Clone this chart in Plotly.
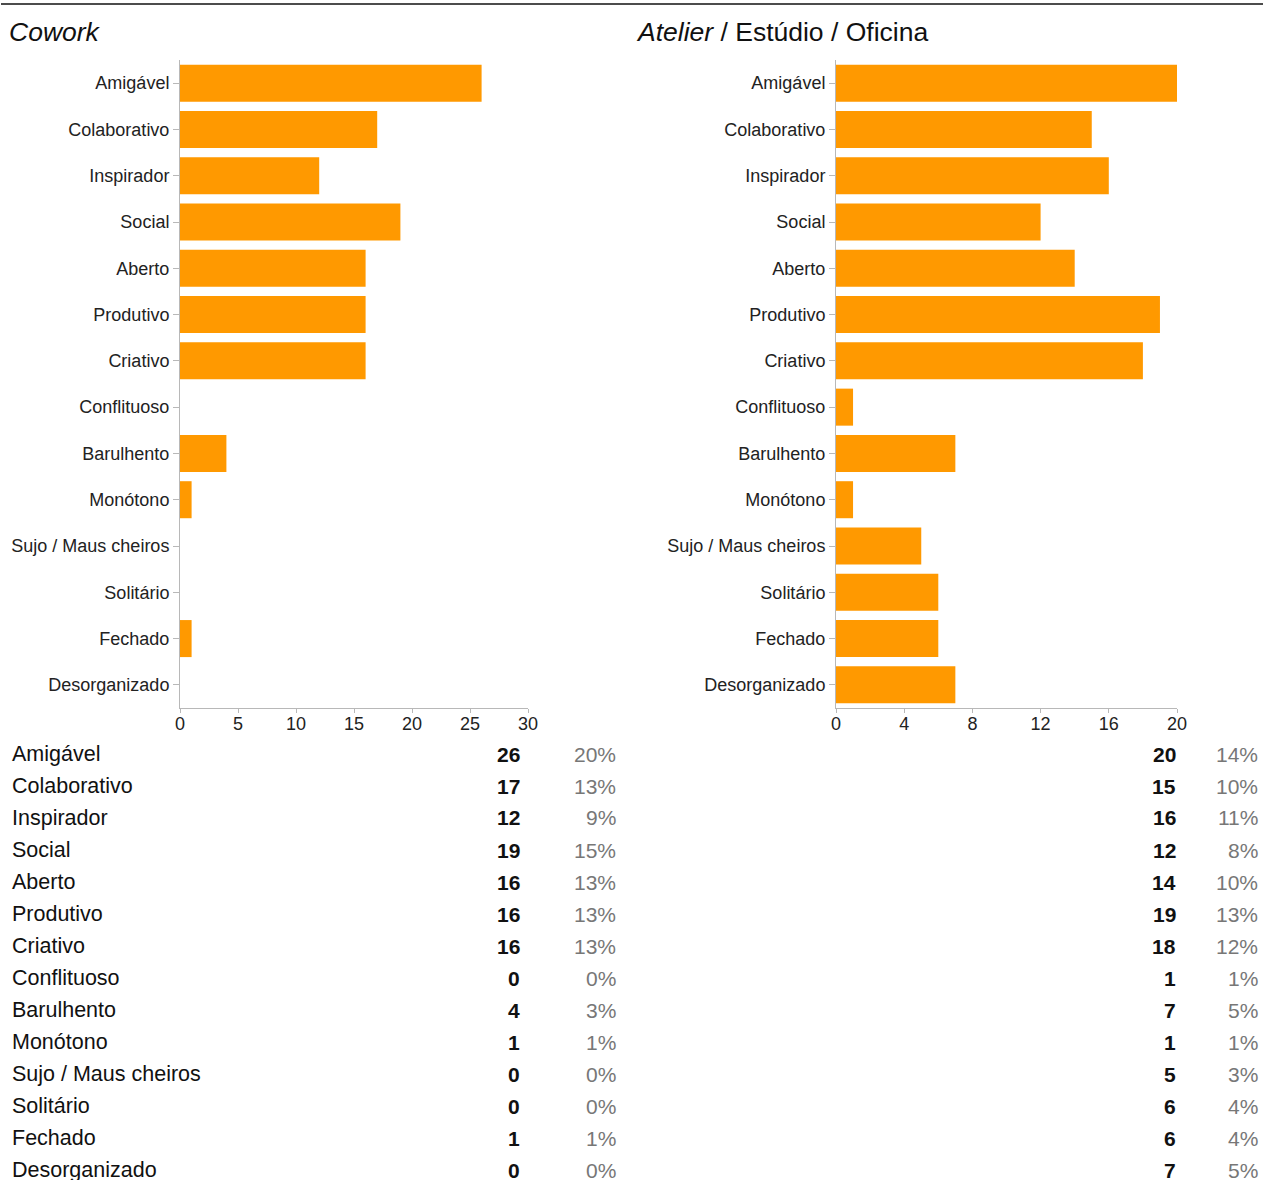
import plotly.graph_objects as go

W, H = 1263, 1180

categories = ["Amigável", "Colaborativo", "Inspirador", "Social", "Aberto", "Produtivo",
              "Criativo", "Conflituoso", "Barulhento", "Monótono", "Sujo / Maus cheiros",
              "Solitário", "Fechado", "Desorganizado"]
cowork_counts = [26, 17, 12, 19, 16, 16, 16, 0, 4, 1, 0, 0, 1, 0]
atelier_counts = [20, 15, 16, 12, 14, 19, 18, 1, 7, 1, 5, 6, 6, 7]
cowork_pct = ["20%", "13%", "9%", "15%", "13%", "13%", "13%", "0%", "3%", "1%", "0%", "0%", "1%", "0%"]
atelier_pct = ["14%", "10%", "11%", "8%", "10%", "13%", "12%", "1%", "5%", "1%", "3%", "4%", "4%", "5%"]
cowork_ticks = [0, 5, 10, 15, 20, 25, 30]
atelier_ticks = [0, 4, 8, 12, 16, 20]
titles = ["<i>Cowork</i>", "<i>Atelier</i> / Estúdio / Oficina"]

# observed rendering: screen_x ~= 4 + 1248 * paper_x
X0, XW = 4.0, 1248.0


def px(x):
    return (x - X0) / XW


def py(y):
    return 1 - y / H


FONT = "Liberation Sans, Arial, sans-serif"
ORANGE = "#FF9900"
AXIS = "#B8B8B8"

fig = go.Figure()
fig.add_trace(go.Bar(x=cowork_counts, y=categories, orientation="h",
                     marker=dict(color=ORANGE, line=dict(width=0)),
                     xaxis="x", yaxis="y", showlegend=False))
fig.add_trace(go.Bar(x=atelier_counts, y=categories, orientation="h",
                     marker=dict(color=ORANGE, line=dict(width=0)),
                     xaxis="x2", yaxis="y2", showlegend=False))

ydom = [py(708), py(60)]
common_y = dict(autorange="reversed", showline=True, linecolor=AXIS, linewidth=1,
                ticks="outside", ticklen=6, tickcolor=AXIS, showgrid=False,
                tickfont=dict(family=FONT, size=18, color="#222"),
                fixedrange=True)
common_x = dict(showline=True, linecolor=AXIS, linewidth=1, ticks="outside", ticklen=4,
                tickcolor=AXIS, showgrid=False, zeroline=False, ticklabelstandoff=-5,
                tickfont=dict(family=FONT, size=18, color="#222"))

fig.update_layout(
    width=W, height=H,
    margin=dict(l=0, r=0, t=0, b=0),
    paper_bgcolor="white", plot_bgcolor="white",
    bargap=0.2,
    xaxis=dict(domain=[px(179), px(527)], range=[0, 30], tickvals=cowork_ticks, anchor="y", **common_x),
    yaxis=dict(domain=ydom, anchor="x", **common_y),
    xaxis2=dict(domain=[px(835), px(1176)], range=[0, 20], tickvals=atelier_ticks, anchor="y2", **common_x),
    yaxis2=dict(domain=ydom, anchor="x2", **common_y),
)

# top rule
fig.add_shape(type="line", xref="paper", yref="paper", x0=px(0), x1=px(1263), y0=py(4), y1=py(4),
              line=dict(color="#111", width=1.5))

# titles
fig.add_annotation(text=titles[0], xref="paper", yref="paper", x=px(6), y=py(32),
                   xanchor="left", yanchor="middle", showarrow=False,
                   font=dict(family=FONT, size=26.5, color="#111"))
fig.add_annotation(text=titles[1], xref="paper", yref="paper", x=px(633), y=py(32),
                   xanchor="left", yanchor="middle", showarrow=False,
                   font=dict(family=FONT, size=26.5, color="#111"))

# tables
for i, cat in enumerate(categories):
    yy = py(754 + 32 * i)
    fig.add_annotation(text=cat, xref="paper", yref="paper", x=px(9), y=yy,
                       xanchor="left", yanchor="middle", showarrow=False,
                       font=dict(family=FONT, size=21.5, color="#111"))
    fig.add_annotation(text="<b>%d</b>" % cowork_counts[i], xref="paper", yref="paper",
                       x=px(521), y=yy, xanchor="right", yanchor="middle", showarrow=False,
                       font=dict(family=FONT, size=21, color="#111"))
    fig.add_annotation(text=cowork_pct[i], xref="paper", yref="paper",
                       x=px(617), y=yy, xanchor="right", yanchor="middle", showarrow=False,
                       font=dict(family=FONT, size=21, color="#777"))
    fig.add_annotation(text="<b>%d</b>" % atelier_counts[i], xref="paper", yref="paper",
                       x=px(1177), y=yy, xanchor="right", yanchor="middle", showarrow=False,
                       font=dict(family=FONT, size=21, color="#111"))
    fig.add_annotation(text=atelier_pct[i], xref="paper", yref="paper",
                       x=px(1259), y=yy, xanchor="right", yanchor="middle", showarrow=False,
                       font=dict(family=FONT, size=21, color="#777"))

fig.write_html("out.html")
